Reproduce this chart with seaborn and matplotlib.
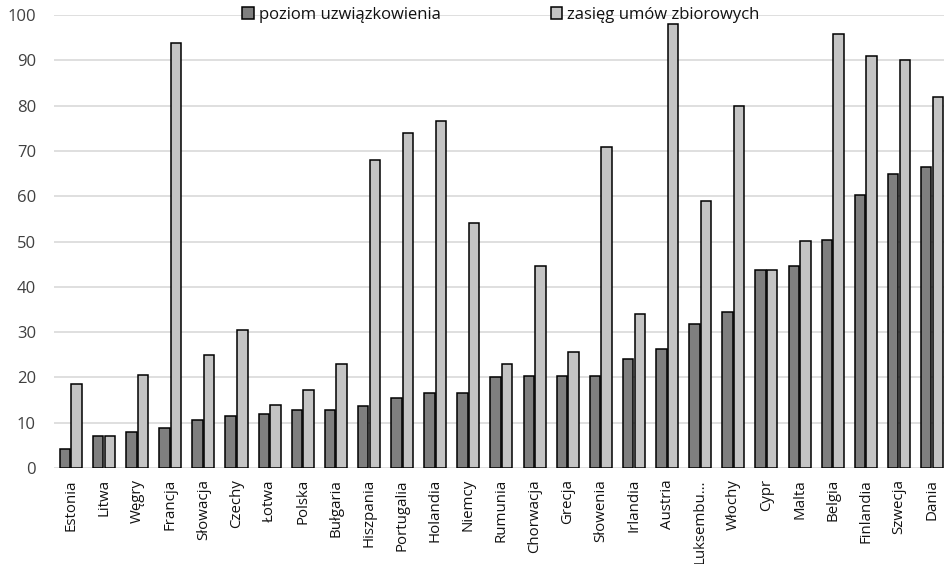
import pandas as pd
import matplotlib.pyplot as plt
import seaborn as sns
from matplotlib.patches import Patch

# dane
kraje = ['Estonia', 'Litwa', 'Węgry', 'Francja', 'Słowacja', 'Czechy', 'Łotwa',
         'Polska', 'Bułgaria', 'Hiszpania', 'Portugalia', 'Holandia', 'Niemcy',
         'Rumunia', 'Chorwacja', 'Grecja', 'Słowenia', 'Irlandia', 'Austria',
         'Luksembu…', 'Włochy', 'Cypr', 'Malta', 'Belgia', 'Finlandia',
         'Szwecja', 'Dania']
uzwiazkowienie = [4.3, 7.1, 7.9, 8.8, 10.6, 11.5, 11.9, 12.7, 12.9, 13.7, 15.4,
                  16.5, 16.5, 20.0, 20.2, 20.2, 20.4, 24.1, 26.3, 31.8, 34.4,
                  43.7, 44.6, 50.4, 60.3, 64.9, 66.5]
zasieg = [18.6, 7.1, 20.5, 93.9, 25.0, 30.4, 13.8, 17.3, 22.9, 67.9, 73.9,
          76.6, 54.0, 23.0, 44.7, 25.5, 70.9, 34.0, 98.0, 59.0, 79.9, 43.7,
          50.1, 95.9, 90.9, 90.0, 81.9]
serie = ['poziom uzwiązkowienia', 'zasięg umów zbiorowych']
kolory = ['#7f7f7f', '#c4c4c4']

df = pd.DataFrame({
    'kraj': kraje * 2,
    'wartosc': uzwiazkowienie + zasieg,
    'seria': [serie[0]] * len(kraje) + [serie[1]] * len(kraje),
})

sns.set_theme(style="white")
plt.rcParams['font.family'] = ['Open Sans', 'DejaVu Sans']

fig = plt.figure(figsize=(9.44, 5.64), dpi=100)
ax = fig.add_axes([54 / 944, 1 - 468 / 564, 1 - 54 / 944, (468 - 15) / 564])

sns.barplot(data=df, x='kraj', y='wartosc', hue='seria', palette=kolory,
            edgecolor='black', linewidth=1.1, width=0.7, gap=0.1,
            saturation=1, ax=ax, zorder=3)

ax.set_ylim(0, 100)
ax.set_xlim(-0.51, 26.36)
ax.set_yticks(range(0, 101, 10))
ax.yaxis.grid(True, color='#d9d9d9', linewidth=1.2, zorder=0)
ax.set_axisbelow(True)
for s in ax.spines.values():
    s.set_visible(False)
ax.set_xlabel('')
ax.set_ylabel('')
ax.tick_params(axis='y', length=0, pad=13, labelsize=12, labelcolor='#404040')
ax.tick_params(axis='x', length=0, pad=8)
ax.set_xticks(range(len(kraje)))
ax.set_xticklabels(kraje, rotation=90, fontsize=10.8, color='#111111')

ax.get_legend().remove()
uchwyty = [Patch(facecolor=c, edgecolor='black', linewidth=1.1) for c in kolory]
ax.legend(uchwyty, serie, loc='center', bbox_to_anchor=(0.502, 1.0), ncol=2,
          frameon=False, fontsize=12, handlelength=0.7, handleheight=0.7,
          handletextpad=0.3, columnspacing=6.6, labelcolor='#111111')

fig.savefig('out.png', dpi=100)
